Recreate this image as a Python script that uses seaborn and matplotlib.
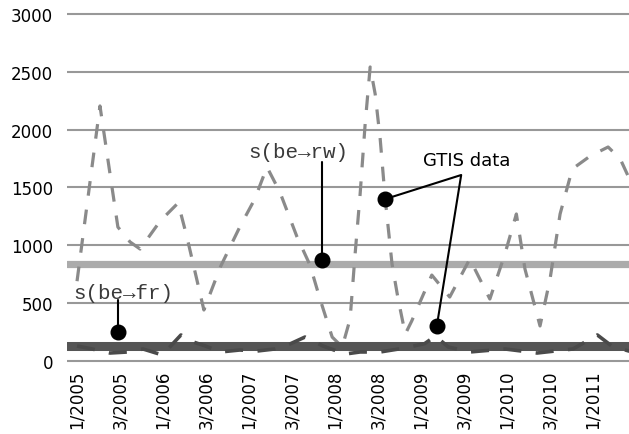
import matplotlib
matplotlib.use("Agg")
import matplotlib.pyplot as plt
import seaborn as sns
import pandas as pd

# ---------------- data ----------------
tick_labels = ["1/2005", "3/2005", "1/2006", "3/2006", "1/2007", "3/2007",
               "1/2008", "3/2008", "1/2009", "3/2009", "1/2010", "3/2010",
               "1/2011", "3/2011"]
tick_months = [0, 6, 12, 18, 24, 30, 36, 42, 48, 54, 60, 66, 72, 78]

# GTIS data, upper series (month index since 1/2005, value)
gtis_rw_month = [0, 3.2, 5.7, 7.4, 8.8, 11.6, 14.1, 15.3, 17.7, 20.0, 22.7,
                 24.8, 26.5, 28.3, 30.7, 32.5, 33.9, 35.6, 37.0, 38.1, 38.8,
                 39.5, 40.2, 40.9, 41.6, 42.3, 43.0, 43.95, 44.8, 45.8, 46.7,
                 49.5, 52.0, 54.8, 57.6, 59.7, 61.3, 62.5, 64.6, 66.0, 67.4,
                 69.1, 71.6, 74.1, 75.8, 77.4, 79.0]
gtis_rw_value = [690, 2205, 1158, 1029, 968, 1210, 1366, 1081, 441, 813, 1158,
                 1400, 1677, 1461, 1072, 830, 536, 207, 121, 363, 925,
                 1444, 2049, 2542, 2308, 1919, 1400, 839, 536, 233, 346,
                 743, 553, 882, 536, 925, 1271, 795, 303, 709, 1271,
                 1660, 1772, 1850, 1746, 1530, 1400]

# GTIS data, lower series
gtis_fr_month = [0, 2.1, 4.6, 7.1, 9.2, 11.9, 14.5, 15.8, 17.9, 20.0, 22.7,
                 25.1, 27.6, 29.7, 31.8, 34.3, 37.4, 39.5, 42.3, 45.5, 48.5,
                 50.0, 51.8, 54.8, 59.7, 64.2, 69.2, 72.6, 74.6, 77.0, 79.0]
gtis_fr_value = [130, 104, 69, 78, 104, 52, 225, 173, 130, 78, 95,
                 86, 104, 147, 207, 130, 60, 78, 78, 110, 150,
                 216, 121, 78, 104, 69, 104, 225, 130, 86, 100]

s_be_rw = 835   # model level s(be->rw)
s_be_fr = 130   # model level s(be->fr)

# ---------------- layout ----------------
W, H = 629, 435
px_per_month = 7.167
xmin, xmax = -1.4, 84.0
ymin, ymax = -15, 3015
px_per_unit = 0.11567

sns.set_style("white")
plt.rcParams["font.family"] = ["DejaVu Sans"]

fig = plt.figure(figsize=(W / 100, H / 100), dpi=100)
ax_w = (xmax - xmin) * px_per_month
ax_h = (ymax - ymin) * px_per_unit
ax_left = 67
ax_bottom_px = 362 + 15 * px_per_unit   # pixel y of ymin
ax = fig.add_axes([ax_left / W, (H - ax_bottom_px) / H, ax_w / W, ax_h / H])

ax.set_xlim(xmin, xmax)
ax.set_ylim(ymin, ymax)
for s in ax.spines.values():
    s.set_visible(False)

ax.set_yticks([0, 500, 1000, 1500, 2000, 2500, 3000])
ax.yaxis.grid(True, color="#989898", lw=1.5)
ax.xaxis.grid(False)
ax.set_axisbelow(True)
ax.set_xticks(tick_months)
ax.set_xticklabels(tick_labels, rotation=90)
ax.tick_params(axis="y", length=0, pad=10, labelsize=12, colors="black")
ax.tick_params(axis="x", length=0, pad=5, labelsize=12, colors="black")

# model levels
ax.axhline(s_be_rw, color="#ababab", lw=5.2, zorder=2)

# GTIS upper series
df_rw = pd.DataFrame({"month": gtis_rw_month, "value": gtis_rw_value})
sns.lineplot(data=df_rw, x="month", y="value", ax=ax, color="#8a8a8a",
             lw=2.3, zorder=3)
ax.lines[-1].set_dashes((4.6, 4.4))

ax.axhline(s_be_fr, color="#555555", lw=6.5, zorder=4)

df_fr = pd.DataFrame({"month": gtis_fr_month, "value": gtis_fr_value})
sns.lineplot(data=df_fr, x="month", y="value", ax=ax, color="#4a4a4a",
             lw=2.6, zorder=5)
ax.lines[-1].set_dashes((5.0, 4.0))

ax.set_xlabel("")
ax.set_ylabel("")

# ---------------- annotations ----------------
mono = ["Liberation Mono", "DejaVu Sans Mono"]
dot_kw = dict(marker="o", ms=10.5, color="black", zorder=10, ls="none")
line_kw = dict(color="black", lw=1.5, zorder=9)

# s(be->rw)
ax.plot([34.2, 34.2], [1720, 873], **line_kw)
ax.plot([34.2], [873], **dot_kw)
ax.text(30.9, 1815, "s(be\u2192rw)", family=mono, fontsize=15, color="#3a3a3a",
        ha="center", va="center", zorder=11)

# s(be->fr)
ax.plot([5.7, 5.7], [525, 251], **line_kw)
ax.plot([5.7], [251], **dot_kw)
ax.text(6.4, 590, "s(be\u2192fr)", family=mono, fontsize=15, color="#3a3a3a",
        ha="center", va="center", zorder=11)

# GTIS data
ax.plot([43.0, 53.6, 50.2], [1400, 1608, 303], **line_kw)
ax.plot([43.0, 50.2], [1400, 303], **dot_kw)
ax.text(54.3, 1735, "GTIS data", fontsize=13, color="black",
        ha="center", va="center", zorder=11)

fig.savefig("out.png", dpi=100)
